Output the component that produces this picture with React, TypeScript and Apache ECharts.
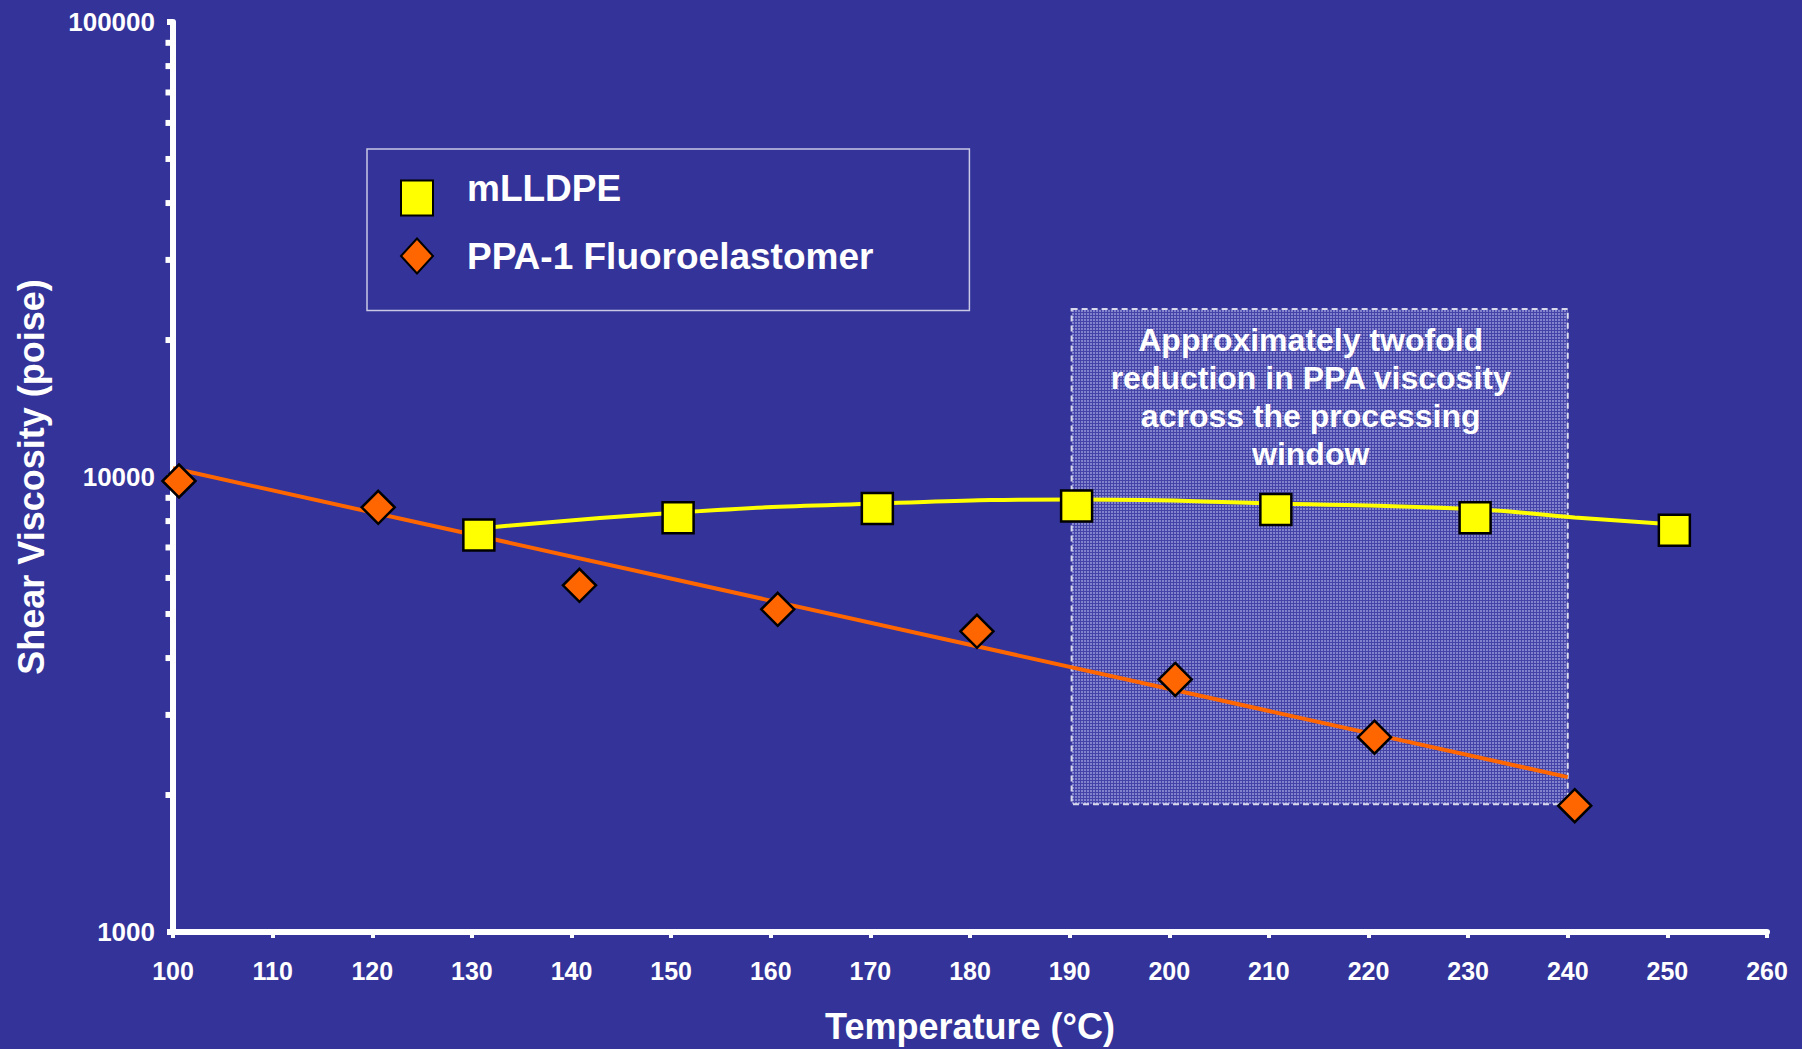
import { useEffect, useRef } from "react";
import * as echarts from "echarts";

// ---- data ----
const mlldpeTemps = [130.7, 150.7, 170.7, 190.7, 210.7, 230.7, 250.7];
const mlldpeVisc = [7460, 8140, 8530, 8630, 8480, 8140, 7640];

const ppaTemps = [100.6, 120.6, 140.8, 160.7, 180.7, 200.6, 220.6, 240.7];
const ppaVisc = [9800, 8580, 5780, 5120, 4580, 3590, 2680, 1895];

// trend lines
const mlldpeTrendTemps = [130.7, 150.7, 170.7, 190.7, 210.7, 230.7, 240.7, 250.7];
const mlldpeTrendVisc = [7706, 8358, 8745, 8925, 8745, 8490, 8150, 7866];
const ppaTrendTemps = [100, 240];
const ppaTrendVisc = [10450, 2190];

// y-axis minor tick values (log decades)
const minorTickValues = [2000, 3000, 4000, 5000, 6000, 7000, 8000, 9000, 20000, 30000, 40000, 50000, 60000, 70000, 80000, 90000];

// annotation
const annotationLines = [
  "Approximately twofold",
  "reduction in PPA viscosity",
  "across the processing",
  "window",
];
const annotationTemps = [190.2, 240];
const annotationVisc = [23400, 1910];

const seriesNames = ["mLLDPE", "PPA-1 Fluoroelastomer"];
const xAxisTitle = "Temperature (°C)";
const yAxisTitle = "Shear Viscosity (poise)";

const FONT = 'Arial, "Liberation Sans", Helvetica, sans-serif';
const BG = "#333399";

function makeTexture(): string | null {
  try {
    const c = document.createElement("canvas");
    c.width = 3;
    c.height = 3;
    const ctx = c.getContext("2d");
    if (!ctx) return null;
    ctx.fillStyle = "rgb(150,150,218)";
    ctx.fillRect(0, 0, 3, 3);
    ctx.fillStyle = "rgb(72,72,172)";
    ctx.fillRect(0, 0, 3, 1);
    ctx.fillRect(0, 0, 1, 3);
    return c.toDataURL();
  } catch (e) {
    return null;
  }
}

export default function App() {
  const ref = useRef<HTMLDivElement>(null);

  useEffect(() => {
    if (!ref.current) return;
    const chart = echarts.init(ref.current, undefined, { renderer: "svg" });

    const zip = (xs: number[], ys: number[]) => xs.map((x, i) => [x, ys[i]]);
    const tex = makeTexture();
    const boxFill: any = tex
      ? { image: tex, repeat: "repeat", imageWidth: 3, imageHeight: 3 }
      : "rgba(190,190,238,0.45)";

    const legendText = {
      color: "#ffffff",
      fontFamily: FONT,
      fontWeight: "bold",
      fontSize: 37,
    };

    chart.setOption({
      animation: false,
      backgroundColor: BG,
      grid: { left: 173, right: 35, top: 22, bottom: 116 },
      legend: {
        orient: "vertical",
        left: 367,
        top: 149,
        padding: [21, 96, 36, 33],
        itemGap: 21,
        itemWidth: 32,
        itemHeight: 35,
        borderColor: "#c8c8e6",
        borderWidth: 1.5,
        data: seriesNames,
        formatter: (name: string) =>
          name === seriesNames[0] ? `{a|${name}}` : `{b|${name}}`,
        textStyle: {
          ...legendText,
          rich: {
            a: { ...legendText, padding: [0, 0, 19, 29] },
            b: { ...legendText, padding: [0, 0, 0, 29] },
          },
        },
      },
      xAxis: {
        type: "value",
        min: 100,
        max: 260,
        interval: 10,
        name: xAxisTitle,
        nameLocation: "middle",
        nameGap: 76,
        nameTextStyle: { color: "#fff", fontFamily: FONT, fontWeight: "bold", fontSize: 36 },
        axisLine: { show: true, lineStyle: { color: "#fff", width: 6 } },
        axisTick: { show: true, length: 6, lineStyle: { color: "#fff", width: 4 } },
        axisLabel: { color: "#fff", fontFamily: FONT, fontWeight: "bold", fontSize: 25, margin: 26 },
        splitLine: { show: false },
      },
      yAxis: {
        type: "log",
        logBase: 10,
        min: 1000,
        max: 100000,
        name: yAxisTitle,
        nameLocation: "middle",
        nameGap: 124,
        nameTextStyle: { color: "#fff", fontFamily: FONT, fontWeight: "bold", fontSize: 36 },
        axisLine: { show: true, lineStyle: { color: "#fff", width: 6 } },
        axisTick: { show: true, length: 6, lineStyle: { color: "#fff", width: 6 } },
        axisLabel: {
          color: "#fff",
          fontFamily: FONT,
          fontWeight: "bold",
          fontSize: 26,
          margin: 18,
          formatter: (v: number) => String(Math.round(v)),
        },
        splitLine: { show: false },
      },
      series: [
        {
          type: "line",
          name: "mLLDPE trend",
          data: zip(mlldpeTrendTemps, mlldpeTrendVisc),
          smooth: true,
          showSymbol: false,
          lineStyle: { color: "#ffff00", width: 4 },
          z: 2,
          silent: true,
        },
        {
          type: "line",
          name: "PPA trend",
          data: zip(ppaTrendTemps, ppaTrendVisc),
          showSymbol: false,
          lineStyle: { color: "#ff6600", width: 4 },
          z: 2,
          silent: true,
        },
        {
          type: "line",
          name: "annotation",
          data: [],
          z: 3,
          silent: true,
          markArea: {
            silent: true,
            itemStyle: {
              color: boxFill,
              opacity: 0.8,
              borderColor: "#ffffff",
              borderWidth: 2,
              borderType: [6, 4],
            },
            label: {
              show: true,
              position: "insideTop",
              distance: 13,
              offset: [-9, 0],
              color: "#fff",
              fontFamily: FONT,
              fontWeight: "bold",
              fontSize: 32,
              lineHeight: 38,
              align: "center",
              formatter: annotationLines.join("\n"),
            },
            data: [
              [
                { xAxis: annotationTemps[0], yAxis: annotationVisc[0] },
                { xAxis: annotationTemps[1], yAxis: annotationVisc[1] },
              ],
            ],
          },
        },
        {
          type: "scatter",
          name: "minor ticks",
          data: minorTickValues.map((v) => [100, v]),
          symbol: "rect",
          symbolSize: [5, 6],
          symbolOffset: [-5, 0],
          itemStyle: { color: "#fff", opacity: 1 },
          clip: false,
          silent: true,
          z: 5,
        },
        {
          type: "scatter",
          name: seriesNames[0],
          data: zip(mlldpeTemps, mlldpeVisc),
          symbol: "rect",
          symbolSize: 31,
          itemStyle: { color: "#ffff00", borderColor: "#000", borderWidth: 2.5, opacity: 1 },
          clip: false,
          z: 6,
        },
        {
          type: "scatter",
          name: seriesNames[1],
          data: zip(ppaTemps, ppaVisc),
          symbol: "diamond",
          symbolSize: 33,
          itemStyle: { color: "#ff6600", borderColor: "#000", borderWidth: 2.5, opacity: 1 },
          clip: false,
          z: 6,
        },
      ],
    });

    return () => chart.dispose();
  }, []);

  return (
    <div
      ref={ref}
      style={{ position: "absolute", left: 0, top: 0, width: 1802, height: 1049 }}
    />
  );
}
